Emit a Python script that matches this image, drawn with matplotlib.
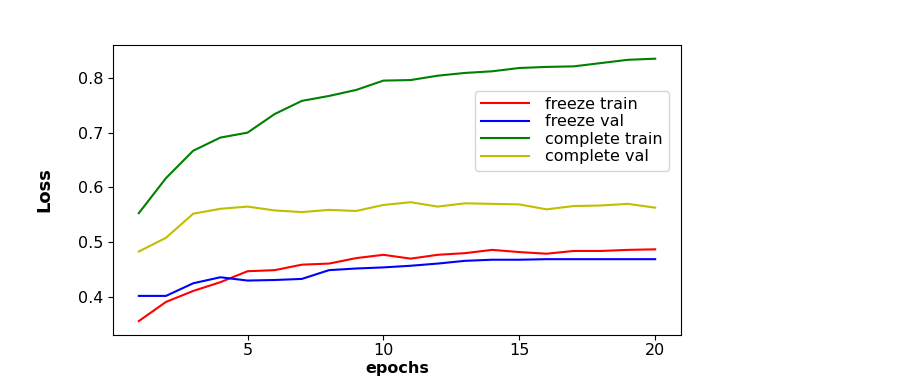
"""
loss curves, freeze vs complete training
"""

import matplotlib
matplotlib.use('Agg')
import matplotlib.pyplot as plt

epochs = list(range(1, 21))
freeze_train = [0.356, 0.391, 0.411, 0.427, 0.447, 0.449, 0.459, 0.461, 0.471, 0.477,
                0.470, 0.477, 0.480, 0.486, 0.482, 0.479, 0.484, 0.484, 0.486, 0.487]
freeze_val = [0.402, 0.402, 0.425, 0.436, 0.430, 0.431, 0.433, 0.449, 0.452, 0.454,
              0.457, 0.461, 0.466, 0.468, 0.468, 0.469, 0.469, 0.469, 0.469, 0.469]
complete_train = [0.553, 0.617, 0.667, 0.691, 0.700, 0.734, 0.758, 0.767, 0.778, 0.795,
                  0.796, 0.804, 0.809, 0.812, 0.818, 0.820, 0.821, 0.827, 0.833, 0.835]
complete_val = [0.483, 0.508, 0.552, 0.561, 0.565, 0.558, 0.555, 0.559, 0.557, 0.568,
                0.573, 0.565, 0.571, 0.570, 0.569, 0.560, 0.566, 0.567, 0.570, 0.563]


def main():
    fig = plt.figure(figsize=(9.13, 3.82), dpi=100)
    ax = fig.add_axes([113 / 913, 47 / 382, 568 / 913, 290 / 382])
    ax.plot(epochs, freeze_train, 'r', label='freeze train')
    ax.plot(epochs, freeze_val, 'b', label='freeze val')
    ax.plot(epochs, complete_train, 'g', label='complete train')
    ax.plot(epochs, complete_val, 'y', label='complete val')
    ax.set_ylim(0.3306, 0.860)
    ax.set_xticks([5, 10, 15, 20])
    ax.set_yticks([0.4, 0.5, 0.6, 0.7, 0.8])
    ax.tick_params(labelsize=11.5)
    ax.tick_params(axis='x', pad=2.5)
    ax.set_xlabel('epochs', fontsize=11.5, fontweight='bold')
    ax.set_ylabel('Loss', fontsize=13, fontweight='bold')
    ax.xaxis.set_label_coords(0.5, -0.09)
    ax.yaxis.set_label_coords(-0.105, 0.5)
    ax.legend(loc='upper right', bbox_to_anchor=(0.993, 0.87), fontsize=11.5,
              handlelength=3.0, handletextpad=1.0, labelspacing=0.15,
              borderpad=0.4)
    fig.savefig('out.png', dpi=100)


if __name__ == '__main__':
    main()
